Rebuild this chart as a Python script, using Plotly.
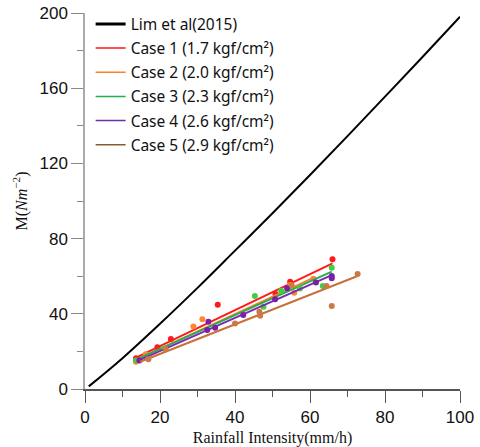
import plotly.graph_objects as go

# Lim et al. (2015) reference curve
lim_x = [1, 10, 20, 30, 40, 50, 60, 70, 80, 90, 100]
lim_y = [1.4, 16.4, 34.7, 53.8, 73.6, 93.5, 113.8, 134.5, 155.5, 176.6, 198]

case_names = [
    "Case 1 (1.7 kgf/cm²)",
    "Case 2 (2.0 kgf/cm²)",
    "Case 3 (2.3 kgf/cm²)",
    "Case 4 (2.6 kgf/cm²)",
    "Case 5 (2.9 kgf/cm²)",
]

# measured points per case
case1_x = [13.6, 19.3, 22.9, 35.4, 50.8, 54.7, 66.0]
case1_y = [16.3, 22.2, 26.6, 44.8, 50.5, 57.1, 69.0]
case2_x = [13.6, 16.2, 28.9, 31.3, 55.8, 54.7, 60.9]
case2_y = [14.5, 18.5, 33.2, 37.1, 51.2, 55.3, 58.6]
case3_x = [13.6, 21.0, 45.3, 47.6, 52.3, 57.3, 63.4, 65.8]
case3_y = [15.1, 21.5, 49.5, 43.8, 52.3, 53.4, 54.8, 64.5]
case4_x = [14.5, 32.9, 32.6, 34.7, 42.2, 50.7, 53.9, 61.6, 65.8, 65.8]
case4_y = [15.1, 35.8, 31.4, 32.6, 39.4, 47.7, 53.6, 56.7, 60.1, 58.9]
case5_x = [16.9, 21.5, 40.0, 46.5, 46.7, 55.1, 64.4, 65.8, 72.7]
case5_y = [15.8, 21.1, 34.9, 41.1, 39.0, 55.3, 54.8, 44.1, 61.2]

# linear fit end points per case
fit1_x, fit1_y = [13.6, 66.0], [16.7, 66.8]
fit2_x, fit2_y = [13.5, 61.0], [15.4, 59.2]
fit3_x, fit3_y = [13.3, 65.8], [15.4, 62.4]
fit4_x, fit4_y = [14.2, 65.8], [15.1, 60.6]
fit5_x, fit5_y = [14.7, 72.7], [14.5, 60.1]

points = [(case1_x, case1_y), (case2_x, case2_y), (case3_x, case3_y),
          (case4_x, case4_y), (case5_x, case5_y)]
fits = [(fit1_x, fit1_y), (fit2_x, fit2_y), (fit3_x, fit3_y),
        (fit4_x, fit4_y), (fit5_x, fit5_y)]

line_colors = ["#ff1a1a", "#ff7f27", "#22b14c", "#7b2bb0", "#c8703a"]
marker_colors = ["#ff1a1a", "#ff8533", "#44cc44", "#7a1fa8", "#cc7a45"]
legend_colors = ["#ff1a1a", "#ff7f27", "#22b14c", "#7030a0", "#8b5a2b"]

fig = go.Figure()

fig.add_trace(go.Scatter(x=lim_x, y=lim_y, mode="lines", line=dict(color="black", width=2),
                         line_shape="spline", showlegend=False, hoverinfo="skip"))

for (fx, fy), (px, py), lc, mc in zip(fits, points, line_colors, marker_colors):
    fig.add_trace(go.Scatter(x=fx, y=fy, mode="lines", line=dict(color=lc, width=2),
                             showlegend=False))
    fig.add_trace(go.Scatter(x=px, y=py, mode="markers",
                             marker=dict(color=mc, size=6), showlegend=False))

# legend entries
fig.add_trace(go.Scatter(x=[None], y=[None], mode="lines", name="Lim et al(2015)",
                         line=dict(color="black", width=3), legendgroup="g0"))
for i, (name, c) in enumerate(zip(case_names, legend_colors)):
    fig.add_trace(go.Scatter(x=[None], y=[None], mode="lines", name=name,
                             line=dict(color=c, width=1.5), legendgroup=f"g{i+1}"))

tick_font = dict(family="Liberation Sans, Arial", size=17, color="#111")
title_font = dict(family="Liberation Serif, Times New Roman", size=16, color="#111")

fig.update_layout(
    width=480, height=447,
    margin=dict(l=85, r=20, t=13, b=58, autoexpand=False),
    paper_bgcolor="white", plot_bgcolor="white",
    legend=dict(x=0.015, y=1.015, xanchor="left", yanchor="top",
                font=dict(family="Noto Sans", size=15.5, color="#111"),
                bgcolor="rgba(0,0,0,0)", tracegroupgap=1),
    xaxis=dict(range=[0, 100], dtick=20, tick0=0, showgrid=False, zeroline=False,
               automargin=False,
               showline=True, linecolor="#555", linewidth=1.5,
               ticks="outside", ticklen=12, tickcolor="#555", tickwidth=1,
               tickfont=tick_font,
               minor=dict(dtick=10, ticks="outside", ticklen=6, tickcolor="#555"),
               title=dict(text="Rainfall Intensity(mm/h)", font=title_font, standoff=8)),
    yaxis=dict(range=[0, 200], dtick=40, tick0=0, showgrid=False, zeroline=False,
               automargin=False,
               showline=True, linecolor="#aaa", linewidth=1.5,
               ticks="outside", ticklen=12, tickcolor="#888", tickwidth=1,
               tickfont=tick_font,
               minor=dict(dtick=20, ticks="outside", ticklen=6, tickcolor="#888"),
               title=dict(text="M(<i>Nm</i><sup>−2</sup>)", font=title_font, standoff=8)),
)

fig.write_html("out.html")
